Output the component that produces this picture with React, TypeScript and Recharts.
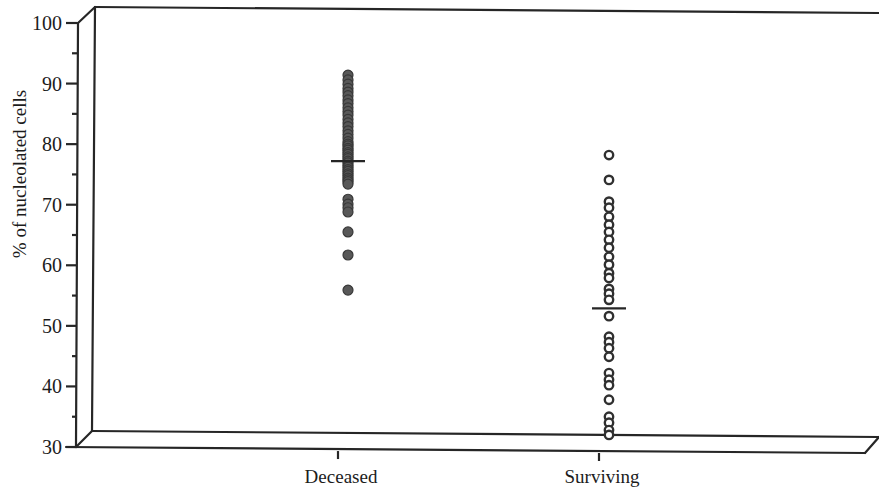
import React from 'react';
import { ScatterChart, Scatter, XAxis, YAxis, Customized } from 'recharts';

const categories = ['Deceased', 'Surviving'];

const deceasedValues = [
  91.4, 90.6, 89.9, 89.2, 88.6, 88.0, 87.3, 86.7, 86.0, 85.4, 84.8, 84.1, 83.5,
  82.9, 82.2, 81.6, 81.0, 80.4, 80.0, 79.7, 79.3, 79.0, 78.6, 78.3, 77.9, 77.6,
  77.2, 76.9, 76.5, 76.2, 75.8, 75.5, 75.1, 74.8, 74.4, 74.1, 73.8, 73.4,
  70.9, 70.1, 69.5, 68.8, 65.5, 61.7, 55.9,
];

const survivingValues = [
  78.2, 74.1, 70.5, 69.5, 68.0, 66.7, 65.5, 64.2, 62.9, 61.4, 60.1, 58.7, 57.9,
  56.1, 55.3, 54.3, 51.6, 48.2, 47.3, 46.3, 44.9, 42.2, 41.1, 40.2, 37.8, 35.0,
  34.0, 32.8, 32.0,
];

const groupMeans = [77.2, 52.9];

const yTicks = [30, 35, 40, 45, 50, 55, 60, 65, 70, 75, 80, 85, 90, 95, 100];

const W = 879;
const H = 493;
const PLOT_LEFT = 77;
const PLOT_TOP = 23;
const PLOT_BOTTOM = 447;
const PLOT_RIGHT = 860;
const DEPTH_X = 17;
const DEPTH_Y = 16;
const TILT = 6;
const DOT_SHIFT = 10;
const INK = '#262626';
const TEXT = '#1c1c1c';
const FONT = '"Liberation Serif", "Times New Roman", serif';

const deceasedData = deceasedValues.map((v) => ({ x: 1, y: v }));
const survivingData = survivingValues.map((v) => ({ x: 2, y: v }));
const meanData = groupMeans.map((v, i) => ({ x: i + 1, y: v }));

const floorY = (x: number) => PLOT_BOTTOM + (TILT * (x - 66)) / (865 - 66);

const Frame = () => {
  const bl = { x: 76, y: PLOT_BOTTOM };
  const tl = { x: 78, y: PLOT_TOP };
  const btl = { x: tl.x + DEPTH_X, y: tl.y - DEPTH_Y };
  const bbl = { x: bl.x + DEPTH_X - 1, y: bl.y - DEPTH_Y };
  const lines = [
    [bl.x, bl.y, tl.x, tl.y],
    [tl.x, tl.y, btl.x, btl.y],
    [btl.x, btl.y, bbl.x, bbl.y],
    [btl.x, btl.y, W, btl.y + TILT],
    [bbl.x, bbl.y, W, bbl.y + TILT],
    [bl.x, bl.y, bbl.x, bbl.y],
    [66, PLOT_BOTTOM, 865, PLOT_BOTTOM + TILT],
    [865, PLOT_BOTTOM + TILT, W, bbl.y + TILT],
  ];
  return (
    <g>
      {lines.map((l, i) => (
        <line key={i} x1={l[0]} y1={l[1]} x2={l[2]} y2={l[3]} stroke={INK} strokeWidth={2.2} strokeLinecap="round" />
      ))}
      <text
        x={19}
        y={174}
        transform="rotate(-90 19 174)"
        textAnchor="middle"
        dominantBaseline="central"
        fontFamily={FONT}
        fontSize={19}
        fill={TEXT}
      >
        % of nucleolated cells
      </text>
    </g>
  );
};

const YTick = (props: any) => {
  const { x, y, payload } = props;
  const v = payload.value as number;
  const major = v % 10 === 0;
  return (
    <g>
      <line x1={x - (major ? 11 : 5)} x2={x} y1={y} y2={y} stroke={INK} strokeWidth={2.2} />
      {major && (
        <text x={x - 15} y={y} dy={7} textAnchor="end" fontFamily={FONT} fontSize={20} fill={TEXT}>
          {v}
        </text>
      )}
    </g>
  );
};

const XTick = (props: any) => {
  const { x, payload } = props;
  const fy = floorY(x);
  const name = categories[(payload.value as number) - 1];
  return (
    <g>
      <line x1={x} x2={x} y1={fy + 2} y2={fy + 10} stroke={INK} strokeWidth={2.2} />
      <text x={x + 3} y={483} textAnchor="middle" fontFamily={FONT} fontSize={19} fill={TEXT}>
        {name}
      </text>
    </g>
  );
};

const FilledDot = (props: any) => (
  <circle cx={props.cx + DOT_SHIFT} cy={props.cy} r={5} fill="#585858" stroke="#383838" strokeWidth={1.2} />
);

const OpenDot = (props: any) => (
  <circle cx={props.cx + DOT_SHIFT} cy={props.cy} r={4.2} fill="#fff" stroke="#303030" strokeWidth={2.4} />
);

const MeanDash = (props: any) => (
  <line
    x1={props.cx + DOT_SHIFT - 17}
    x2={props.cx + DOT_SHIFT + 17}
    y1={props.cy}
    y2={props.cy}
    stroke={INK}
    strokeWidth={2.2}
  />
);

export default function App() {
  return (
    <div style={{ position: 'absolute', left: 0, top: 0, width: W, height: H, background: '#fff' }}>
      <ScatterChart
        width={W}
        height={H}
        margin={{ top: PLOT_TOP, right: W - PLOT_RIGHT, bottom: 6, left: PLOT_LEFT - 60 }}
      >
        <Customized component={<Frame />} />
        <XAxis
          type="number"
          dataKey="x"
          domain={[0, 3]}
          ticks={[1, 2]}
          height={40}
          axisLine={false}
          tickLine={false}
          tickSize={0}
          tickMargin={0}
          tick={<XTick />}
          interval={0}
        />
        <YAxis
          type="number"
          dataKey="y"
          domain={[30, 100]}
          ticks={yTicks}
          width={60}
          axisLine={false}
          tickLine={false}
          tickSize={0}
          tickMargin={0}
          tick={<YTick />}
          interval={0}
          allowDataOverflow
        />
        <Scatter data={deceasedData} shape={<FilledDot />} isAnimationActive={false} />
        <Scatter data={survivingData} shape={<OpenDot />} isAnimationActive={false} />
        <Scatter data={meanData} shape={<MeanDash />} isAnimationActive={false} />
      </ScatterChart>
    </div>
  );
}
